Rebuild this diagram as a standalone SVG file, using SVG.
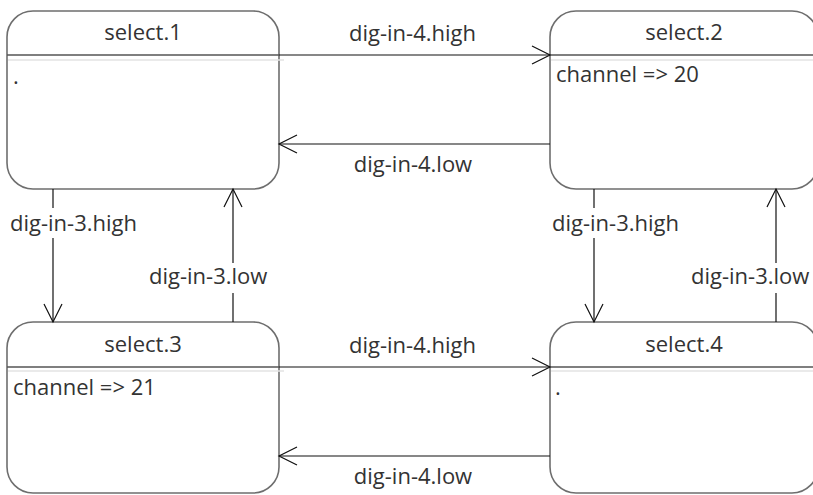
<svg xmlns="http://www.w3.org/2000/svg" width="813" height="495" viewBox="0 0 813 495">
<defs>
<style>
.box{fill:#fff;stroke:#6e6e6e;stroke-width:1.6}
.div{stroke:#555;stroke-width:1.4}
.div2{stroke:#e3e3e3;stroke-width:1.4}
.t{font-family:"Open Sans","Liberation Sans",sans-serif;font-size:22px;fill:#333}
.c{text-anchor:middle}
.ln{stroke:#111;stroke-width:1.2;fill:none}
.ah{stroke:#111;stroke-width:1.2;fill:none}
.bg{fill:#fff}
</style>
</defs>
<rect width="813" height="495" fill="#fff"/>
<g id="node-select1">
<rect class="box" x="7" y="11" width="272" height="178" rx="26" ry="26"/>
<line class="div" x1="7" y1="55" x2="279" y2="55"/>
<line class="div2" x1="8" y1="60" x2="284" y2="60"/>
<text class="t c" x="143" y="40">select.1</text>
<text class="t" x="13" y="84">.</text>
</g>
<g id="node-select2">
<rect class="box" x="550" y="11" width="268" height="178" rx="26" ry="26"/>
<line class="div" x1="550" y1="55" x2="818" y2="55"/>
<line class="div2" x1="551" y1="60" x2="818" y2="60"/>
<text class="t c" x="684" y="40">select.2</text>
<text class="t" x="556" y="82">channel =&gt; 20</text>
</g>
<g id="node-select3">
<rect class="box" x="7" y="322" width="272" height="171" rx="26" ry="26"/>
<line class="div" x1="7" y1="367" x2="279" y2="367"/>
<line class="div2" x1="8" y1="371" x2="284" y2="371"/>
<text class="t c" x="143" y="352">select.3</text>
<text class="t" x="13" y="395">channel =&gt; 21</text>
</g>
<g id="node-select4">
<rect class="box" x="550" y="322" width="268" height="171" rx="26" ry="26"/>
<line class="div" x1="550" y1="367" x2="818" y2="367"/>
<line class="div2" x1="551" y1="371" x2="818" y2="371"/>
<text class="t c" x="684" y="352">select.4</text>
<text class="t" x="555" y="395">.</text>
</g>
<g id="connectors">
<!-- 1 -> 2 -->
<line class="ln" x1="279" y1="55" x2="550" y2="55"/>
<polyline class="ah" points="532,46 550,55 532,64"/>
<text class="t c" x="412.5" y="41">dig-in-4.high</text>
<!-- 2 -> 1 -->
<line class="ln" x1="550" y1="144" x2="279" y2="144"/>
<polyline class="ah" points="297,135 279,144 297,153"/>
<text class="t c" x="413" y="172">dig-in-4.low</text>
<!-- 1 -> 3 -->
<line class="ln" x1="53" y1="189" x2="53" y2="322"/>
<polyline class="ah" points="44,304 53,322 62,304"/>
<rect class="bg" x="9" y="208" width="131" height="30"/>
<text class="t" x="10" y="231">dig-in-3.high</text>
<!-- 3 -> 1 -->
<line class="ln" x1="233" y1="322" x2="233" y2="189"/>
<polyline class="ah" points="224,207 233,189 242,207"/>
<rect class="bg" x="148" y="263" width="126" height="30"/>
<text class="t" x="149" y="284">dig-in-3.low</text>
<!-- 2 -> 4 -->
<line class="ln" x1="594" y1="189" x2="594" y2="322"/>
<polyline class="ah" points="585,304 594,322 603,304"/>
<rect class="bg" x="551" y="208" width="131" height="30"/>
<text class="t" x="552" y="231">dig-in-3.high</text>
<!-- 4 -> 2 -->
<line class="ln" x1="776" y1="322" x2="776" y2="189"/>
<polyline class="ah" points="767,207 776,189 785,207"/>
<rect class="bg" x="690" y="263" width="126" height="30"/>
<text class="t" x="691" y="284">dig-in-3.low</text>
<!-- 3 -> 4 -->
<line class="ln" x1="279" y1="367" x2="550" y2="367"/>
<polyline class="ah" points="532,358 550,367 532,376"/>
<text class="t c" x="412.5" y="353">dig-in-4.high</text>
<!-- 4 -> 3 -->
<line class="ln" x1="550" y1="456" x2="279" y2="456"/>
<polyline class="ah" points="297,447 279,456 297,465"/>
<text class="t c" x="413" y="484">dig-in-4.low</text>
</g>
</svg>
